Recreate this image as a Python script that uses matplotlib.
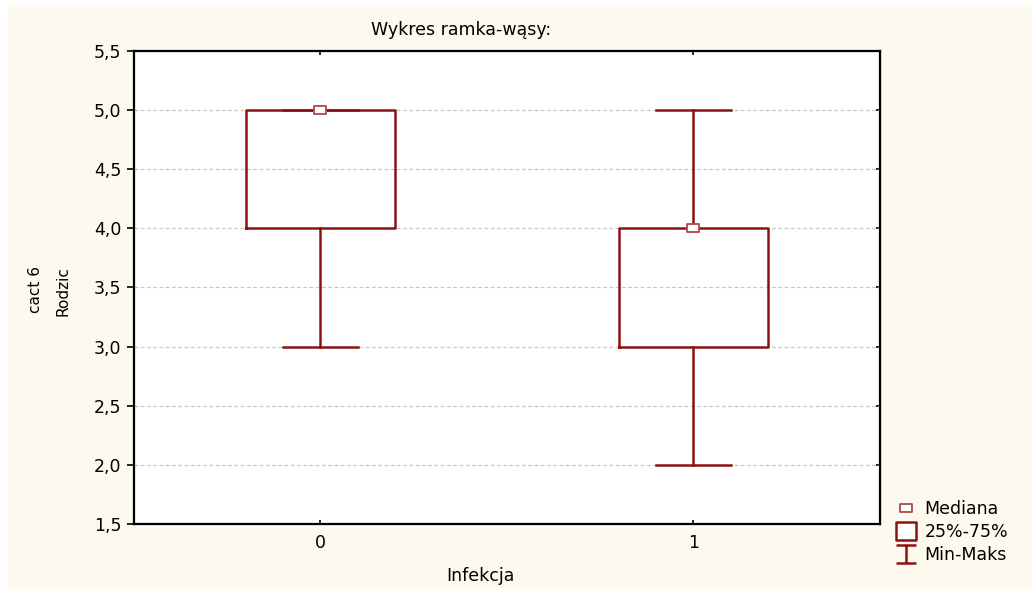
import matplotlib.pyplot as plt
from matplotlib.lines import Line2D
from matplotlib.patches import Rectangle
from matplotlib.path import Path
from matplotlib.ticker import FuncFormatter, MultipleLocator

plt.rcParams['font.family'] = ['DejaVu Sans']

# Statistics per group of "Infekcja"
groups = ['0', '1']
medians = [5.0, 4.0]
q1 = [4.0, 3.0]
q3 = [5.0, 4.0]
mins = [3.0, 2.0]
maxs = [5.0, 5.0]

red = '#8c1212'
light_red = '#b04848'

fig = plt.figure(figsize=(10.32, 5.89), dpi=100, facecolor='white')
fig.patches.append(Rectangle((8 / 1032, 0), 1, 1 - 5 / 589, transform=fig.transFigure,
                             facecolor='#fdf9ef', edgecolor='none', zorder=-10))

ax = fig.add_axes([0.1298, 0.1104, 0.7229, 0.803])
ax.set_facecolor('white')

stats = []
for i, g in enumerate(groups):
    stats.append({'label': g, 'med': medians[i], 'q1': q1[i], 'q3': q3[i],
                  'whislo': mins[i], 'whishi': maxs[i], 'fliers': []})

# flat rectangle used for the median marker
med_mark = Path([(-1, -0.72), (1, -0.72), (1, 0.72), (-1, 0.72), (-1, -0.72)],
                [Path.MOVETO, Path.LINETO, Path.LINETO, Path.LINETO, Path.CLOSEPOLY])

pos = list(range(len(groups)))
ax.bxp(stats, positions=pos, widths=0.4, capwidths=0.2, showfliers=False,
       boxprops=dict(color=red, linewidth=1.8),
       whiskerprops=dict(color=red, linewidth=1.8),
       capprops=dict(color=red, linewidth=1.8),
       medianprops=dict(linewidth=0))
ax.plot(pos, medians, linestyle='none', marker=med_mark, markersize=8.5,
        markerfacecolor='white', markeredgecolor=light_red, markeredgewidth=1.3, zorder=5)

ax.set_xlim(-0.5, 1.5)
ax.set_ylim(1.5, 5.5)
ax.yaxis.set_major_locator(MultipleLocator(0.5))
ax.yaxis.set_major_formatter(FuncFormatter(lambda v, p: f'{v:.1f}'.replace('.', ',')))
ax.set_xticks(pos, labels=groups)
ax.grid(axis='y', color='#c8c8c8', linestyle=(0, (3, 2)), linewidth=0.9)
ax.set_axisbelow(True)
ax.tick_params(axis='both', labelsize=12.5, width=1.2)
ax.tick_params(axis='x', direction='in', length=3, top=True, pad=7)
ax.tick_params(axis='y', direction='out', length=5, pad=4)
ax.secondary_yaxis('right').tick_params(direction='in', length=3, width=1.2, labelright=False)
for s in ax.spines.values():
    s.set_linewidth(1.6)

fig.text(0.447, 0.949, 'Wykres ramka-wąsy:', ha='center', va='center', fontsize=12.5)
fig.text(0.466, 0.022, 'Infekcja', ha='center', va='center', fontsize=12.5)
fig.text(0.034, 0.508, 'cact 6', ha='center', va='center', rotation=90, fontsize=11)
fig.text(0.061, 0.505, 'Rodzic', ha='center', va='center', rotation=90, fontsize=11)

# legend symbols
whisker_mark = Path([(-1, 0.85), (1, 0.85), (0, 0.85), (0, -0.85), (-1, -0.85), (1, -0.85)],
                    [Path.MOVETO, Path.LINETO, Path.MOVETO, Path.LINETO, Path.MOVETO, Path.LINETO])
box_mark = Path([(-1, -0.85), (1, -0.85), (1, 0.85), (-1, 0.85), (-1, -0.85)],
                [Path.MOVETO, Path.LINETO, Path.LINETO, Path.LINETO, Path.CLOSEPOLY])
handles = [
    Line2D([], [], linestyle='none', marker=med_mark, markersize=8.5, markerfacecolor='white',
           markeredgecolor=light_red, markeredgewidth=1.3),
    Line2D([], [], linestyle='none', marker=box_mark, markersize=15, markerfacecolor='white',
           markeredgecolor=red, markeredgewidth=1.8),
    Line2D([], [], linestyle='none', marker=whisker_mark, markersize=15,
           markeredgecolor=red, markeredgewidth=1.8, color=red),
]
fig.legend(handles, ['Mediana', '25%-75%', 'Min-Maks'], loc='upper left',
           bbox_to_anchor=(0.868, 0.151), frameon=False, fontsize=12.5,
           handlelength=1.2, handletextpad=0.45, labelspacing=0.3, borderpad=0.0,
           borderaxespad=0.0)

fig.savefig('out.png', dpi=100, facecolor=fig.get_facecolor())
